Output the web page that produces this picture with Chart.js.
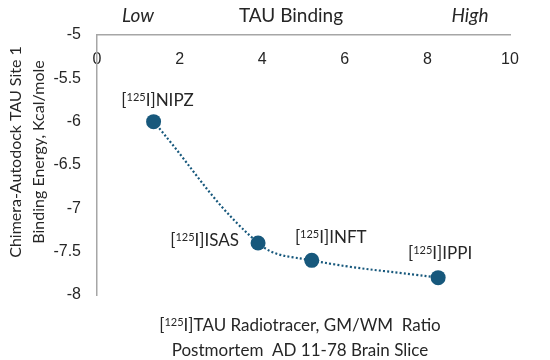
<!DOCTYPE html>
<html><head><meta charset="utf-8">
<script src="https://cdn.jsdelivr.net/npm/chart.js@4/dist/chart.umd.min.js"></script>
<style>html,body{margin:0;padding:0;background:#fff}</style>
</head><body><canvas id="c" width="550" height="360"></canvas>
<script>
const tracers = ['NIPZ', 'ISAS', 'INFT', 'IPPI'];
const gmwmRatio = [1.37, 3.9, 5.2, 8.26];
const bindingEnergy = [-6.0, -7.4, -7.6, -7.8];
const xTicks = [0, 2, 4, 6, 8, 10];
const yTicks = [-5, -5.5, -6, -6.5, -7, -7.5, -8];
const isotope = '125';
const topTitle = ['Low', 'TAU Binding', 'High'];
const xTitle = [['[', isotope, 'I]TAU Radiotracer, GM/WM  Ratio'], ['', '', 'Postmortem  AD 11-78 Brain Slice']];
const yTitle = ['Chimera-Autodock TAU Site 1', 'Binding Energy, Kcal/mole'];

const labelPlacement = [
  {dx: 4, dy: -22, align: 'center'},
  {dx: -19, dy: -3, align: 'right'},
  {dx: 19, dy: -23, align: 'center'},
  {dx: 2, dy: -25, align: 'center'}
];
const MARK = '#17587C';
const TEXT = '#262626';
const FONT = 'Lato';

function drawSupText(ctx, pieces, x, y, align, size, supSize, style) {
  const mainFont = (style ? style + ' ' : '') + size + 'px ' + FONT;
  const supFont = supSize + 'px ' + FONT;
  ctx.font = mainFont;
  const w1 = ctx.measureText(pieces[0]).width;
  const w3 = ctx.measureText(pieces[2]).width;
  ctx.font = supFont;
  const w2 = pieces[1] ? ctx.measureText(pieces[1]).width : 0;
  const total = w1 + w2 + w3;
  const sx = align === 'center' ? x - total / 2 : align === 'right' ? x - total : x;
  const base = y + size * 0.36;
  ctx.textAlign = 'left';
  ctx.textBaseline = 'alphabetic';
  ctx.fillStyle = TEXT;
  ctx.font = mainFont; ctx.fillText(pieces[0], sx, base);
  if (pieces[1]) { ctx.font = supFont; ctx.fillText(pieces[1], sx + w1, base - size * 0.3); }
  ctx.font = mainFont; ctx.fillText(pieces[2], sx + w1 + w2, base);
}

const textPlugin = {
  id: 'texts',
  afterDraw(chart) {
    const ctx = chart.ctx;
    ctx.save();
    const meta = chart.getDatasetMeta(0);
    meta.data.forEach((pt, i) => {
      const p = labelPlacement[i];
      drawSupText(ctx, ['[', isotope, 'I]' + tracers[i]], pt.x + p.dx, pt.y + p.dy, p.align, 17, 11);
    });
    // top title
    drawSupText(ctx, ['', '', topTitle[0]], 138, 15, 'center', 19, 12, 'italic');
    drawSupText(ctx, ['', '', topTitle[1]], 291, 15, 'center', 19, 12);
    drawSupText(ctx, ['', '', topTitle[2]], 470, 15, 'center', 19, 12, 'italic');
    // x title
    drawSupText(ctx, xTitle[0], 300, 325, 'center', 17, 11);
    drawSupText(ctx, xTitle[1], 300, 350, 'center', 17, 11);
    // y title
    ctx.translate(0, 152);
    ctx.rotate(-Math.PI / 2);
    drawSupText(ctx, ['', '', yTitle[0]], 0, 15, 'center', 16, 11);
    drawSupText(ctx, ['', '', yTitle[1]], 0, 38, 'center', 16, 11);
    ctx.restore();
  }
};

new Chart(document.getElementById('c'), {
  type: 'scatter',
  data: {
    datasets: [{
      data: gmwmRatio.map((x, i) => ({x: x, y: bindingEnergy[i]})),
      showLine: true,
      tension: 0.4,
      borderColor: MARK,
      borderWidth: 2.2,
      borderDash: [2, 2.2],
      backgroundColor: MARK,
      pointBackgroundColor: MARK,
      pointBorderWidth: 0,
      pointRadius: 7.5
    }]
  },
  options: {
    responsive: false,
    animation: false,
    layout: {padding: {left: 0, top: 35, right: 40, bottom: 65}},
    plugins: {legend: {display: false}, tooltip: {enabled: false}},
    scales: {
      x: {
        type: 'linear',
        position: {y: -5},
        min: 0, max: 10,
        afterBuildTicks: s => { s.ticks = xTicks.map(v => ({value: v})); },
        grid: {display: false, drawTicks: false},
        border: {display: true, color: '#A6A6A6', width: 1.5},
        ticks: {padding: 15, color: TEXT, font: {family: 'Liberation Sans', size: 16}, callback: v => String(v)}
      },
      y: {
        type: 'linear',
        min: -8, max: -5,
        afterBuildTicks: s => { s.ticks = yTicks.map(v => ({value: v})); },
        afterFit: s => { s.width = 97; },
        grid: {display: false, drawTicks: false},
        border: {display: true, color: '#A6A6A6', width: 1.5},
        ticks: {padding: 16, color: TEXT, font: {family: 'Liberation Sans', size: 16}, callback: v => String(v)}
      }
    }
  },
  plugins: [textPlugin]
});
</script>
</body></html>
